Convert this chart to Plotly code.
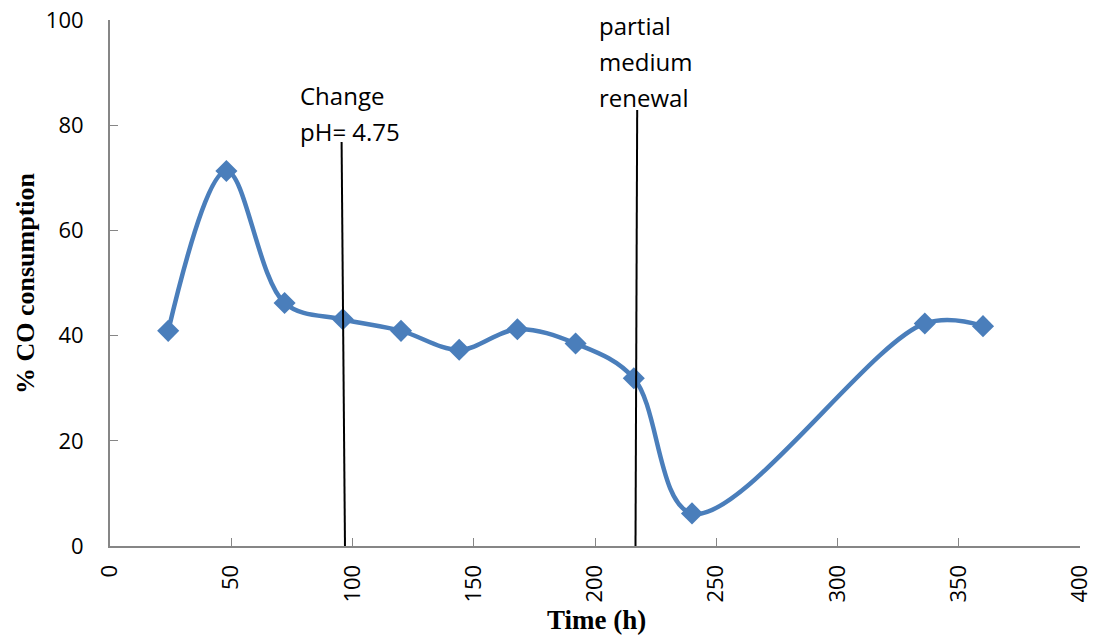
import plotly.graph_objects as go

time_h = [24, 48, 72, 96, 120, 144, 168, 192, 216, 240, 336, 360]
co_consumption = [40.9, 71.3, 46.2, 43.1, 40.9, 37.3, 41.2, 38.5, 31.9, 6.2, 42.3, 41.8]

# event marker lines: (x_bottom, x_top, y_top)
ph_line_x = [96.9, 95.5]
ph_line_y = [0, 76.8]
renewal_line_x = [216.7, 217.4]
renewal_line_y = [0, 82.9]

ph_text = ["Change", "pH= 4.75"]
ph_text_y = [85.6, 78.8]
renewal_text = ["partial", "medium", "renewal"]
renewal_text_y = [99.0, 92.1, 85.3]
ph_text_x = 77.5
renewal_text_x = 200.8

x_ticks = [0, 50, 100, 150, 200, 250, 300, 350, 400]
y_ticks = [0, 20, 40, 60, 80, 100]

blue = "#4A7EBB"
tick_font = dict(family="Open Sans", size=22, color="black")

fig = go.Figure()
fig.add_trace(go.Scatter(
    x=time_h, y=co_consumption, mode="lines+markers",
    line=dict(color=blue, width=4.5, shape="spline", smoothing=1.0),
    marker=dict(symbol="diamond", size=17, color=blue),
    showlegend=False, hoverinfo="x+y"))
for lx, ly in [(ph_line_x, ph_line_y), (renewal_line_x, renewal_line_y)]:
    fig.add_trace(go.Scatter(x=lx, y=ly, mode="lines",
                             line=dict(color="black", width=2),
                             showlegend=False, hoverinfo="skip"))

for t, yy in zip(ph_text, ph_text_y):
    fig.add_annotation(x=ph_text_x, y=yy, text=t, showarrow=False,
                       xanchor="left", yanchor="middle", font=dict(family="Open Sans", size=24, color="black"))
for t, yy in zip(renewal_text, renewal_text_y):
    fig.add_annotation(x=renewal_text_x, y=yy, text=t, showarrow=False,
                       xanchor="left", yanchor="middle", font=dict(family="Open Sans", size=24, color="black"))

# axis titles
fig.add_annotation(xref="paper", yref="paper", x=0.502, y=-0.1407, text="<b>Time (h)</b>",
                   showarrow=False, xanchor="center", yanchor="middle",
                   font=dict(family="Liberation Serif", size=27, color="black"))
fig.add_annotation(xref="paper", yref="paper", x=-0.0876, y=0.5, text="<b>% CO consumption</b>",
                   showarrow=False, xanchor="center", yanchor="middle", textangle=-90,
                   font=dict(family="Liberation Serif", size=26, color="black"))

fig.update_layout(
    width=1096, height=637,
    margin=dict(l=110, r=16, t=20, b=91),
    paper_bgcolor="white", plot_bgcolor="white",
    xaxis=dict(range=[0, 400], tickvals=x_ticks, ticktext=[str(v) for v in x_ticks],
               tickangle=-90, ticks="inside", ticklen=8, tickcolor="#868686",
               showline=True, linecolor="#868686", linewidth=2, showgrid=False, zeroline=False,
               tickfont=tick_font, ticklabelstandoff=8, automargin=False),
    yaxis=dict(range=[0, 100], tickvals=y_ticks, ticks="inside", ticklen=8, tickcolor="#868686",
               showline=True, linecolor="#868686", linewidth=2, showgrid=False, zeroline=False,
               tickfont=tick_font, ticklabelstandoff=20, automargin=False),
)
fig.write_html("out.html", config={"displayModeBar": False},
               post_script="document.body.style.margin='0';document.body.style.overflow='hidden';")
